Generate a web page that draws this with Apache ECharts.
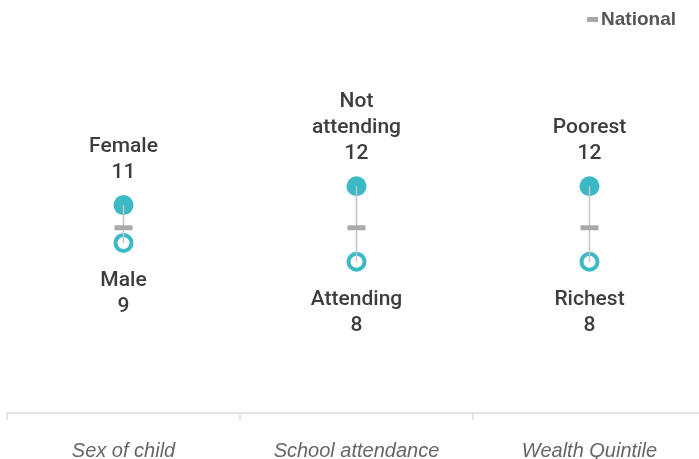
<!DOCTYPE html>
<html>
<head>
<meta charset="utf-8">
<title>Gap by group</title>
<script src="https://cdn.jsdelivr.net/npm/echarts@6/dist/echarts.min.js"></script>
<style>
  html, body { margin: 0; padding: 0; background: #ffffff; }
  #chart { width: 699px; height: 459px; }
</style>
</head>
<body>
<div id="chart"></div>
<script>
// Groups along the x axis
const categories = ['Sex of child', 'School attendance', 'Wealth Quintile'];

// Higher subgroup in each group (filled markers)
const highLabels = ['Female', 'Not\nattending', 'Poorest'];
const highValues = [11, 12, 12];

// Lower subgroup in each group (hollow markers)
const lowLabels = ['Male', 'Attending', 'Richest'];
const lowValues = [9, 8, 8];

// National average shown as a dash
const nationalValues = [9.8, 9.8, 9.8];

const TEAL = '#3bbac6';
const TEXT = '#3d3d3d';

const chart = echarts.init(document.getElementById('chart'), null, { renderer: 'canvas' });

const labelStyle = {
  show: true,
  color: TEXT,
  fontSize: 21,
  fontWeight: 500,
  lineHeight: 26,
  fontFamily: 'Roboto, "Liberation Sans", Arial, sans-serif',
  align: 'center'
};

chart.setOption({
  animation: false,
  backgroundColor: '#ffffff',
  grid: { left: 7, width: 699, top: 35, height: 378, containLabel: false, outerBoundsMode: 'none' },
  legend: {
    right: 23,
    top: 10,
    padding: 0,
    itemWidth: 11,
    itemHeight: 5,
    itemGap: 10,
    selectedMode: false,
    data: [{ name: 'National', icon: 'rect' }],
    textStyle: {
      color: '#555555',
      fontSize: 19,
      fontWeight: 'bold',
      fontFamily: '"Liberation Sans", Arial, sans-serif',
      padding: [0, 0, 0, -2]
    }
  },
  xAxis: {
    type: 'category',
    data: categories,
    boundaryGap: true,
    axisLine: { show: true, lineStyle: { color: '#dcdcdc', width: 1.5 } },
    axisTick: { show: true, alignWithLabel: false, length: 7, lineStyle: { color: '#dcdcdc', width: 1.5 } },
    axisLabel: {
      margin: 28,
      color: '#666666',
      fontSize: 20,
      fontStyle: 'italic',
      fontFamily: '"Liberation Sans", Arial, sans-serif'
    },
    splitLine: { show: false }
  },
  yAxis: {
    type: 'value',
    min: 0,
    max: 20,
    show: false
  },
  series: [
    {
      name: 'High',
      type: 'scatter',
      symbol: 'circle',
      symbolSize: 20,
      z: 2,
      itemStyle: { color: TEAL, opacity: 1 },
      label: Object.assign({}, labelStyle, {
        position: 'top',
        distance: 9,
        formatter: p => highLabels[p.dataIndex] + '\n' + highValues[p.dataIndex]
      }),
      emphasis: { disabled: true },
      data: categories.map((c, i) => [c, highValues[i]])
    },
    {
      name: 'Low',
      type: 'scatter',
      symbol: 'circle',
      symbolSize: 16,
      z: 2,
      itemStyle: { color: '#ffffff', borderColor: TEAL, borderWidth: 4, opacity: 1 },
      label: Object.assign({}, labelStyle, {
        position: 'bottom',
        distance: 15,
        formatter: p => lowLabels[p.dataIndex] + '\n' + lowValues[p.dataIndex]
      }),
      emphasis: { disabled: true },
      data: categories.map((c, i) => [c, lowValues[i]])
    },
    {
      // connector from the higher to the lower subgroup
      name: 'Range',
      type: 'custom',
      z: 3,
      silent: true,
      renderItem: (params, api) => {
        const top = api.coord([api.value(0), api.value(1)]);
        const bottom = api.coord([api.value(0), api.value(2)]);
        return {
          type: 'line',
          shape: { x1: top[0], y1: top[1], x2: bottom[0], y2: bottom[1] },
          style: { stroke: '#c4c4c4', lineWidth: 1.5 }
        };
      },
      data: categories.map((c, i) => [i, highValues[i], lowValues[i]])
    },
    {
      name: 'National',
      type: 'scatter',
      symbol: 'rect',
      symbolSize: [18, 5],
      z: 4,
      itemStyle: { color: '#a9a9a9', opacity: 1 },
      emphasis: { disabled: true },
      data: categories.map((c, i) => [c, nationalValues[i]])
    }
  ]
});
</script>
</body>
</html>
